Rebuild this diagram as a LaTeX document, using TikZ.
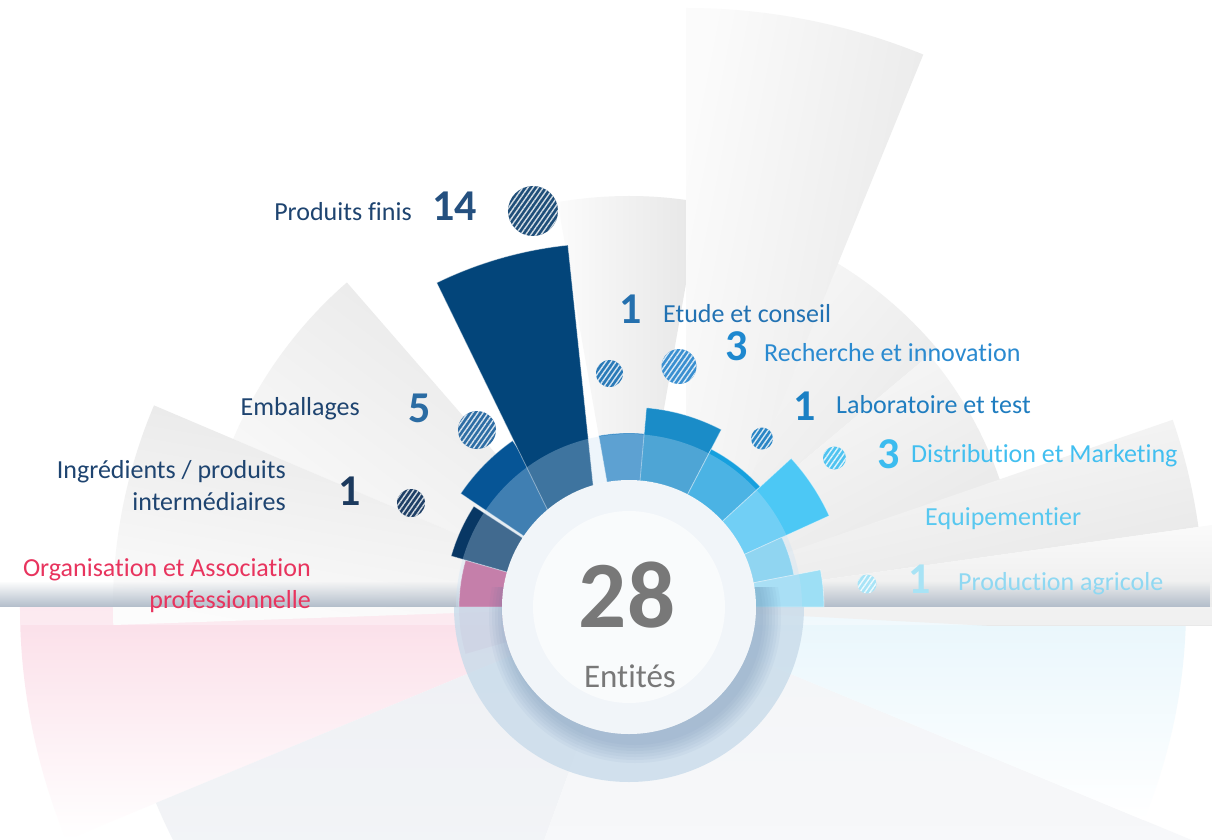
\documentclass[tikz,border=0pt]{standalone}
\usepackage{fontspec}
\setmainfont[RawFeature={-liga;-clig;-calt}]{Carlito}
\usetikzlibrary{patterns.meta,fadings}
\definecolor{bglight}{RGB}{251,251,251}
\definecolor{bgdark}{RGB}{230,230,230}
\definecolor{floorgray}{RGB}{178,189,202}
\definecolor{reflpink}{RGB}{251,222,232}
\definecolor{reflgray}{RGB}{238,240,244}
\definecolor{reflblue}{RGB}{232,246,252}
\definecolor{orgpink}{RGB}{196,86,138}
\definecolor{ingnavy}{RGB}{8,55,100}
\definecolor{embblue}{RGB}{6,85,150}
\definecolor{prodnavy}{RGB}{3,69,122}
\definecolor{etublue}{RGB}{47,134,196}
\definecolor{recblue}{RGB}{26,140,200}
\definecolor{labblue}{RGB}{22,160,222}
\definecolor{disblue}{RGB}{76,200,245}
\definecolor{equblue}{RGB}{120,208,240}
\definecolor{agrblue}{RGB}{157,223,245}
\definecolor{ringtint}{RGB}{200,225,245}
\definecolor{ringlow}{RGB}{200,219,234}
\definecolor{shadowblue}{RGB}{80,118,160}
\definecolor{discface}{RGB}{241,245,249}
\definecolor{centergray}{RGB}{120,120,120}
\definecolor{labnavy}{RGB}{30,68,112}
\definecolor{orgtext}{RGB}{232,52,94}
\definecolor{etutext}{RGB}{34,114,179}
\definecolor{rectext}{RGB}{42,138,208}
\definecolor{labtext}{RGB}{31,125,192}
\definecolor{distext}{RGB}{66,191,240}
\definecolor{equtext}{RGB}{88,200,240}
\definecolor{agrtext}{RGB}{143,216,242}
\definecolor{numprod}{RGB}{36,80,127}
\definecolor{numemb}{RGB}{43,108,163}
\definecolor{numing}{RGB}{28,58,94}
\definecolor{numetu}{RGB}{37,112,174}
\definecolor{numrec}{RGB}{30,136,207}
\definecolor{numlab}{RGB}{26,128,196}
\definecolor{numdis}{RGB}{60,188,239}
\definecolor{numagr}{RGB}{168,227,245}
\definecolor{dotprod}{RGB}{31,78,121}
\definecolor{dotemb}{RGB}{46,109,164}
\definecolor{doting}{RGB}{31,63,102}
\definecolor{dotetu}{RGB}{42,122,184}
\definecolor{dotrec}{RGB}{58,143,208}
\definecolor{dotlab}{RGB}{42,133,197}
\definecolor{dotdis}{RGB}{79,195,240}
\definecolor{dotagr}{RGB}{168,228,247}

\begin{document}
\begin{tikzpicture}[x=1pt,y=1pt,
  blade/.style n args={4}{insert path={(#1) -- ++(#2:#4) arc[start angle=#2,end angle=#3,radius=#4pt] -- cycle}},
  fan/.style={top color=bglight,bottom color=bgdark,shading angle=#1},
  bar/.style={fill=#1,draw=white,draw opacity=.45,line width=.8pt},
  hdot/.style 2 args={circle,inner sep=0pt,minimum size=#2,fill=#1,
    postaction={pattern={Lines[angle=55,distance=4.2pt,line width=1.4pt]},pattern color=white!80!#1}},
  lab/.style={inner sep=0pt,font=\fontsize{26}{32}\selectfont},
  num/.style={inner sep=0pt,anchor=base west,font=\fontsize{44}{44}\selectfont\bfseries}]

  \useasboundingbox (-629,-232) rectangle (583,607);
  \clip (-629,-232) rectangle (583,607);
  \fill[white] (-629,-232) rectangle (583,607);

  % reflection
  \shade[top color=reflpink,bottom color=white,blade={0,0}{180}{202.5}{609}];
  \shade[top color=reflgray,bottom color=white!50!reflgray,blade={0,0}{202.5}{250}{512}];
  \shade[top color=reflgray!70,bottom color=white,blade={0,0}{250}{337.5}{680}];
  \shade[top color=reflblue,bottom color=white,blade={0,0}{337.5}{360}{557}];

  % fan
  \begin{scope}
    \clip (-629,-18) rectangle (583,607);
    \shade[fan=143,blade={0,0}{131}{157}{430}];
    \shade[fan=170,blade={0,0}{157}{182}{516}];
    \shade[fan=90,blade={0,0}{80}{100}{411}];
    \shade[fan=50,blade={0,0}{40}{60}{402}];
    \shade[fan=28,blade={0,0}{17}{40}{392}];
    \shade[fan=13,blade={0,0}{8}{19}{575}];
    \shade[fan=0,blade={0,0}{-3}{8}{620}];
    \shade[fan=79,blade={57,-29}{67.8}{90}{628}];
  \end{scope}

  \fill[floorgray,path fading=north] (-629,0) rectangle (583,26);
  \fill[white,opacity=.35] (-629,-18) rectangle (583,0);

  % bars
  \fill[orgpink,opacity=.25,blade={0,0}{180}{196}{170}];
  \path[bar=orgpink,blade={0,0}{164}{180}{170}];
  \path[bar=ingnavy,blade={0,0}{147}{164}{185}];
  \path[bar=embblue,blade={0,0}{125}{146}{203}];
  \path[bar=etublue,blade={0,0}{84}{100}{174}];
  \path[bar=prodnavy,blade={-20,-29}{96}{116}{393}];
  \path[bar=recblue,blade={0,0}{62.5}{85}{200}];
  \path[bar=labblue,blade={0,0}{42.5}{62.5}{178}];
  \path[bar=disblue,blade={0,0}{24.5}{42.5}{220}];
  \path[bar=equblue,blade={0,0}{11}{24.5}{168}];
  \path[bar=agrblue,blade={0,0}{0}{11}{195}];

  % ring and disc
  \begin{scope}
    \clip (-629,0) rectangle (583,607);
    \fill[ringtint,opacity=.3,even odd rule] (0,0) circle (173pt) circle (127pt);
  \end{scope}
  \begin{scope}
    \clip (-629,0) rectangle (583,-232);
    \fill[ringlow,opacity=.8,even odd rule] (0,0) circle (175pt) circle (127pt);
  \end{scope}
  \begin{scope}
    \clip (-629,20) rectangle (583,-232);
    \foreach \s in {146,143,...,128}
      \fill[shadowblue,opacity=.05] (6,-10) circle (\s pt);
  \end{scope}
  \fill[discface] (0,0) circle (127pt);
  \fill[white,opacity=.6] (0,0) circle (96pt);

  \node[inner sep=0pt,anchor=base,text=centergray,font=\fontsize{95}{95}\selectfont\bfseries] (total) at (-2,-20) {28};
  \node[inner sep=0pt,anchor=base,text=centergray,font=\fontsize{33}{33}\selectfont] (totallab) at (1,-80) {Entités};

  % left labels
  \node[lab,anchor=base east,text=labnavy] (prodlab) at (-217,386) {Produits finis};
  \node[num,text=numprod] (prodnum) at (-197,386) {14};
  \node[hdot={dotprod}{50pt}] (proddot) at (-96,396) {};

  \node[lab,anchor=base east,text=labnavy] (emblab) at (-269,192) {Emballages};
  \node[num,text=numemb] (embnum) at (-221,185) {5};
  \node[hdot={dotemb}{38pt}] (embdot) at (-152,177) {};

  \node[lab,anchor=base east,align=right,text=labnavy] (inglab) at (-343,97) {Ingrédients / produits\\intermédiaires};
  \node[num,text=numing] (ingnum) at (-291,102) {1};
  \node[hdot={doting}{28pt}] (ingdot) at (-218,104) {};

  \node[lab,anchor=base east,align=right,text=orgtext] (orglab) at (-318,-1) {Organisation et Association\\professionnelle};

  % right labels
  \node[num,text=numetu] (etunum) at (-10,284) {1};
  \node[lab,anchor=base west,text=etutext] (etulab) at (34,285) {Etude et conseil};
  \node[hdot={dotetu}{27pt}] (etudot) at (-19.5,233.5) {};

  \node[num,text=numrec] (recnum) at (96,247) {3};
  \node[lab,anchor=base west,text=rectext] (reclab) at (135,246) {Recherche et innovation};
  \node[hdot={dotrec}{35pt}] (recdot) at (50,240.5) {};

  \node[num,text=numlab] (labnum) at (164,187) {1};
  \node[lab,anchor=base west,text=labtext] (lablab) at (207,194) {Laboratoire et test};
  \node[hdot={dotlab}{22pt}] (labdot) at (133,168.5) {};

  \node[num,text=numdis] (disnum) at (248,139) {3};
  \node[lab,anchor=base west,text=distext] (dislab) at (282,145) {Distribution et Marketing};
  \node[hdot={dotdis}{23pt}] (disdot) at (205.5,149) {};

  \node[lab,anchor=base west,text=equtext] (equlab) at (296,82) {Equipementier};

  \node[num,text=numagr] (agrnum) at (279,14) {1};
  \node[lab,anchor=base west,text=agrtext] (agrlab) at (329,17) {Production agricole};
  \node[hdot={dotagr}{19pt}] (agrdot) at (238,23) {};

\end{tikzpicture}
\end{document}
